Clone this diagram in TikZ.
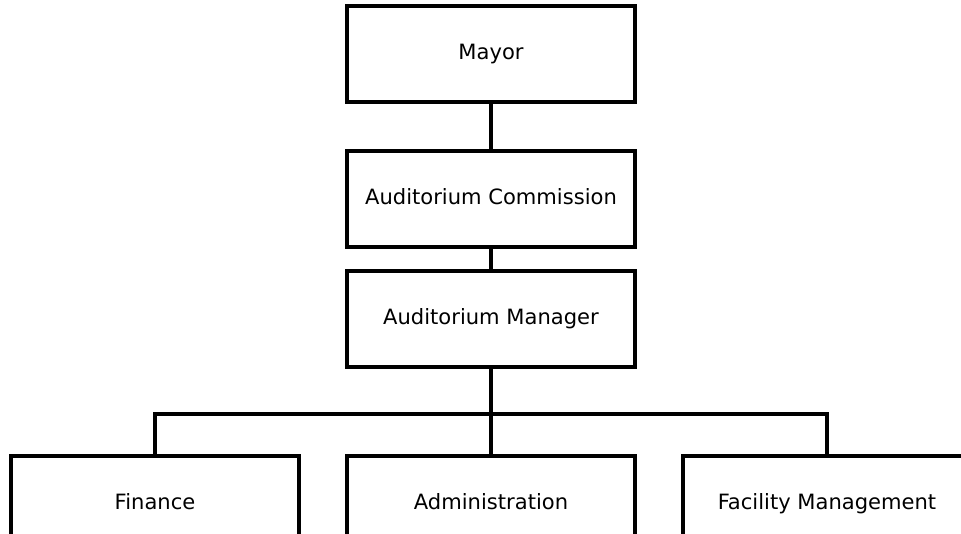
\documentclass[tikz,border=0pt]{standalone}
\usepackage{fontspec}
\setmainfont{DejaVu Sans}
\begin{document}
\begin{tikzpicture}[x=0.75pt,y=-0.75pt,
  unit/.style={draw=black, line width=2.3pt, fill=white, minimum width=216pt, minimum height=72pt,
    inner sep=0pt, text height=11.5pt, text depth=3pt, font=\fontsize{15.8pt}{18pt}\selectfont},
  link/.style={draw=black, line width=2.3pt}]
\useasboundingbox (0,0) rectangle (961,533);
\clip (0,0) rectangle (961,533);
\node[unit] (mayor) at (491,54) {Mayor};
\node[unit] (comm) at (491,199) {Auditorium Commission};
\node[unit] (mgr) at (491,319) {Auditorium Manager};
\node[unit] (fin) at (155,504) {Finance};
\node[unit] (adm) at (491,504) {Administration};
\node[unit] (fac) at (827,504) {Facility Management};
\coordinate (bar) at (491,414);
\draw[link] (mayor.south) -- (comm.north);
\draw[link] (comm.south) -- (mgr.north);
\draw[link] (mgr.south) -- (adm.north);
\draw[link] (fin.north) |- (bar) -| (fac.north);
\end{tikzpicture}
\end{document}
